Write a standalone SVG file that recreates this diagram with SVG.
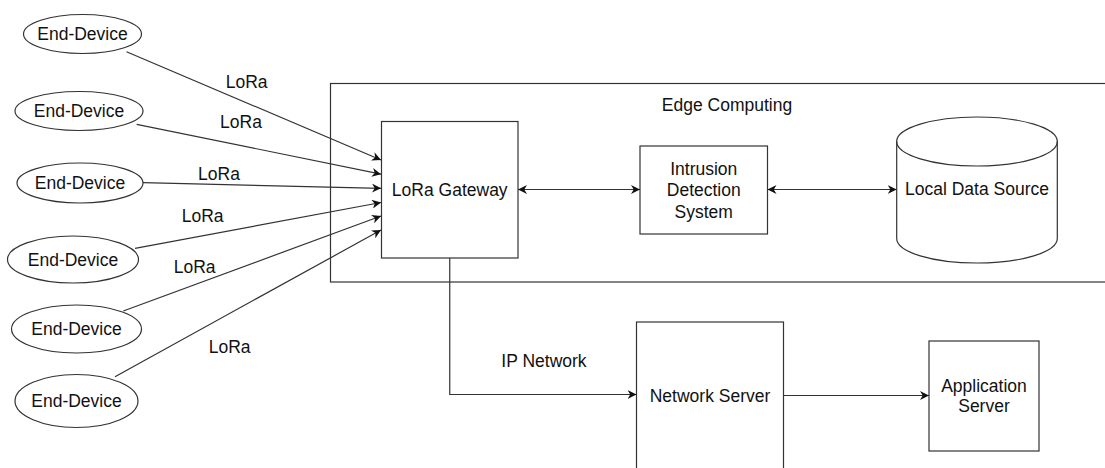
<svg xmlns="http://www.w3.org/2000/svg" width="1105" height="468" viewBox="0 0 1105 468">
  <style>
    .shape { fill: #ffffff; stroke: #333333; stroke-width: 1.2; }
    .edge { fill: none; stroke: #333333; stroke-width: 1.2; }
    .lbl { font-family: "Liberation Sans", Arial, sans-serif; font-size: 17.5px; fill: #111111; text-anchor: middle; }
  </style>
  <defs>
    <marker id="arrow" viewBox="0 0 10 10" refX="10" refY="5" markerWidth="9" markerHeight="9" markerUnits="userSpaceOnUse" orient="auto-start-reverse">
      <path d="M0,0 L10,5 L0,10 L3,5 Z" fill="#111111"/>
    </marker>
  </defs>

  <rect width="1105" height="468" fill="#ffffff"/>

  <!-- Edge computing container -->
  <g id="edge-computing">
    <rect class="shape" x="330.5" y="83.5" width="800" height="198.5"/>
    <text class="lbl" x="727" y="110.7">Edge Computing</text>
  </g>

  <!-- End devices -->
  <g id="end-device-1">
    <ellipse class="shape" cx="82.5" cy="34" rx="59" ry="19.5"/>
    <text class="lbl" x="82.5" y="40">End-Device</text>
  </g>
  <g id="end-device-2">
    <ellipse class="shape" cx="79" cy="111" rx="64" ry="19.5"/>
    <text class="lbl" x="79" y="117">End-Device</text>
  </g>
  <g id="end-device-3">
    <ellipse class="shape" cx="80" cy="183" rx="63" ry="20"/>
    <text class="lbl" x="80" y="189">End-Device</text>
  </g>
  <g id="end-device-4">
    <ellipse class="shape" cx="73" cy="259.5" rx="65.5" ry="23.5"/>
    <text class="lbl" x="73" y="265.5">End-Device</text>
  </g>
  <g id="end-device-5">
    <ellipse class="shape" cx="76.5" cy="329" rx="65" ry="24"/>
    <text class="lbl" x="76.5" y="335">End-Device</text>
  </g>
  <g id="end-device-6">
    <ellipse class="shape" cx="76.5" cy="401" rx="61.5" ry="26.5"/>
    <text class="lbl" x="76.5" y="407">End-Device</text>
  </g>

  <!-- Gateway, IDS, data store -->
  <g id="lora-gateway">
    <rect class="shape" x="381.5" y="121.5" width="136.5" height="136.5"/>
    <text class="lbl" x="449.75" y="196">LoRa Gateway</text>
  </g>
  <g id="ids">
    <rect class="shape" x="640" y="146" width="127.5" height="88"/>
    <text class="lbl" x="703.75" y="174.5">Intrusion</text>
    <text class="lbl" x="703.75" y="196">Detection</text>
    <text class="lbl" x="703.75" y="217.5">System</text>
  </g>
  <g id="local-data-source">
    <path class="shape" d="M896.7,141.5 A80.3,24.5 0 0 1 1057.3,141.5 V238.5 A80.3,24.5 0 0 1 896.7,238.5 Z"/>
    <path class="edge" d="M896.7,141.5 A80.3,24.5 0 0 0 1057.3,141.5"/>
    <text class="lbl" x="977" y="195">Local Data Source</text>
  </g>

  <!-- Servers -->
  <g id="network-server">
    <rect class="shape" x="636.5" y="322" width="147" height="160"/>
    <text class="lbl" x="710" y="401.7">Network Server</text>
  </g>
  <g id="application-server">
    <rect class="shape" x="929" y="341" width="110" height="110"/>
    <text class="lbl" x="984" y="391.7">Application</text>
    <text class="lbl" x="984" y="412.3">Server</text>
  </g>

  <!-- Connectors -->
  <g id="connectors">
    <path class="edge" d="M126.5,51.7 L381,160" marker-end="url(#arrow)"/>
    <path class="edge" d="M136.7,124.3 L381,174.2" marker-end="url(#arrow)"/>
    <path class="edge" d="M143,182.7 L381,188.3" marker-end="url(#arrow)"/>
    <path class="edge" d="M135,248.3 L381,202.5" marker-end="url(#arrow)"/>
    <path class="edge" d="M123.3,311 L381,216" marker-end="url(#arrow)"/>
    <path class="edge" d="M115,376.7 L381,230" marker-end="url(#arrow)"/>

    <path class="edge" d="M518,189.5 H640" marker-start="url(#arrow)" marker-end="url(#arrow)"/>
    <path class="edge" d="M767.5,189.5 H896.7" marker-start="url(#arrow)" marker-end="url(#arrow)"/>

    <path class="edge" d="M449.75,258 V394.5 H636.5" marker-end="url(#arrow)"/>
    <path class="edge" d="M783.5,395.5 H929" marker-end="url(#arrow)"/>

    <text class="lbl" x="246.7" y="88.3">LoRa</text>
    <text class="lbl" x="241" y="128.3">LoRa</text>
    <text class="lbl" x="219" y="180">LoRa</text>
    <text class="lbl" x="202.7" y="221.7">LoRa</text>
    <text class="lbl" x="194.7" y="272.7">LoRa</text>
    <text class="lbl" x="229.7" y="353.3">LoRa</text>
    <text class="lbl" x="544" y="366.7">IP Network</text>
  </g>
</svg>
